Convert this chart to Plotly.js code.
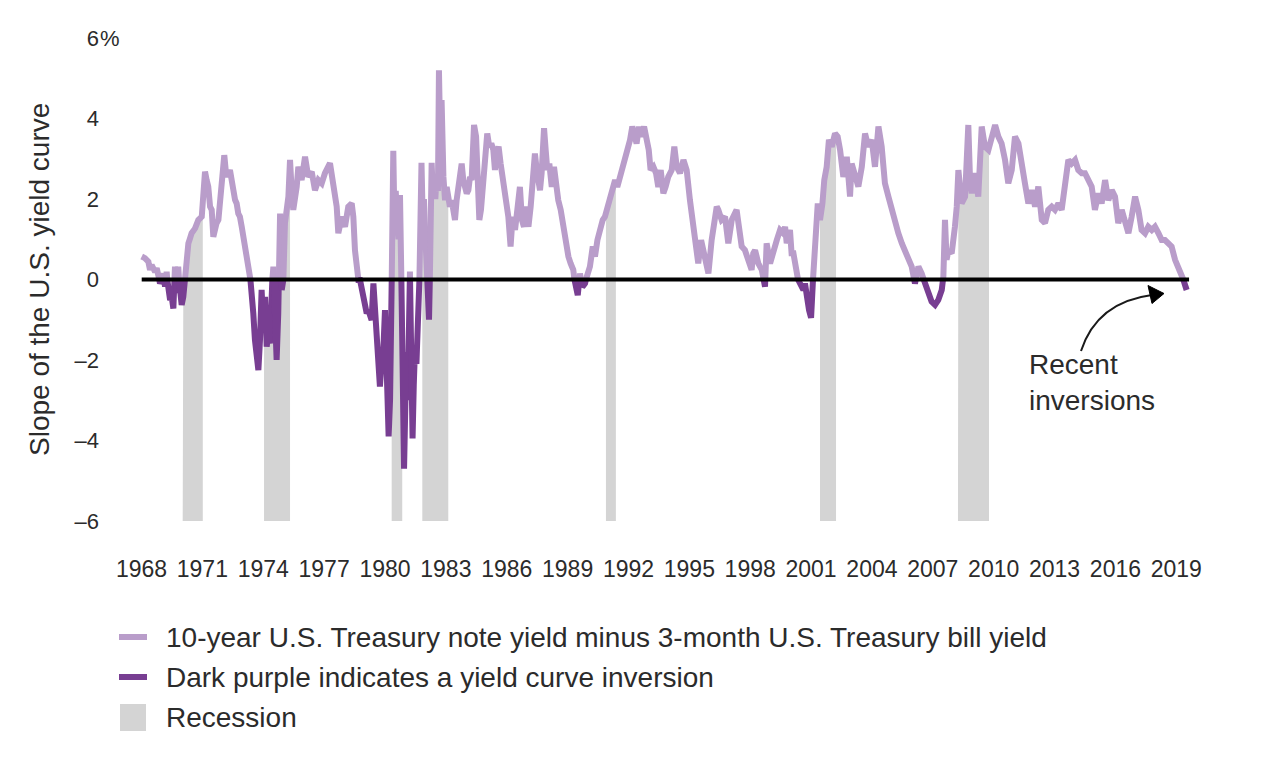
<!DOCTYPE html>
<html>
<head>
<meta charset="utf-8">
<script src="https://cdn.plot.ly/plotly-3.0.1.min.js"></script>
<style>
  html, body { margin: 0; padding: 0; background: #ffffff; }
  #chart { width: 1281px; height: 757px; }
</style>
</head>
<body>
<div id="chart"></div>
<script>
// ---------------- DATA ----------------
// decimal year, spread (10-yr note yield minus 3-month bill yield, %)
const years1968_1979 = [1968.01,1968.17,1968.34,1968.42,1968.50,1968.58,1968.67,1968.75,1968.83,1968.91,1969.00,1969.08,1969.16,1969.24,1969.32,1969.41,1969.49,1969.57,1969.65,1969.73,1969.81,1969.90,1969.98,1970.06,1970.14,1970.23,1970.31,1970.39,1970.47,1970.64,1970.80,1970.97,1971.05,1971.13,1971.21,1971.29,1971.38,1971.46,1971.54,1971.62,1971.70,1971.79,1971.87,1971.95,1972.08,1972.15,1972.25,1972.36,1972.44,1972.53,1972.61,1972.69,1972.77,1972.85,1972.94,1973.02,1973.10,1973.18,1973.27,1973.35,1973.43,1973.51,1973.59,1973.68,1973.76,1973.84,1973.92,1974.00,1974.09,1974.17,1974.25,1974.33,1974.42,1974.50,1974.58,1974.66,1974.74,1974.83,1974.91,1974.99,1975.07,1975.24,1975.32,1975.40,1975.48,1975.65,1975.73,1975.89,1976.06,1976.22,1976.39,1976.55,1976.72,1976.88,1977.04,1977.29,1977.46,1977.62,1977.70,1977.87,1978.03,1978.19,1978.36,1978.44,1978.52,1978.69,1978.77,1978.93,1979.10,1979.18,1979.26,1979.34,1979.43,1979.51,1979.59,1979.67,1979.75,1979.84,1979.92];
const spread1968_1979 = [0.57,0.53,0.44,0.24,0.36,0.28,0.19,0.28,0.15,-0.10,-0.01,0.15,-0.18,0.19,-0.34,-0.51,-0.43,-0.72,0.32,-0.34,0.32,-0.43,-0.63,-0.43,-0.01,0.73,0.90,1.02,1.15,1.27,1.48,1.56,2.06,2.68,2.47,2.31,1.81,1.73,1.06,1.31,1.40,1.48,1.89,2.47,3.09,2.72,2.55,2.72,2.31,2.22,1.98,1.89,1.64,1.56,1.31,1.06,0.82,0.57,0.24,0.07,-0.26,-0.84,-1.50,-2.17,-2.25,-1.50,-0.26,-1.17,-0.43,-1.67,-1.34,-1.59,-0.18,0.32,-1.01,-2.00,-0.84,1.64,-0.26,-0.01,1.40,2.06,2.97,2.22,1.73,2.31,2.80,2.47,3.05,2.55,2.68,2.22,2.47,2.39,2.64,2.89,2.31,1.81,1.15,1.56,1.31,1.81,1.89,1.56,0.73,-0.01,-0.01,-0.51,-0.84,-0.76,-0.96,-1.01,-0.10,-0.84,-1.09,-1.92,-2.66,-2.00,-1.75];

const years1980_1989 = [1980.00,1980.08,1980.18,1980.25,1980.33,1980.41,1980.47,1980.53,1980.60,1980.67,1980.74,1980.80,1980.86,1980.94,1981.00,1981.06,1981.12,1981.18,1981.23,1981.29,1981.36,1981.42,1981.48,1981.55,1981.62,1981.68,1981.74,1981.80,1981.86,1981.92,1981.98,1982.04,1982.10,1982.17,1982.23,1982.30,1982.36,1982.42,1982.48,1982.55,1982.61,1982.66,1982.72,1982.79,1982.88,1982.96,1983.04,1983.12,1983.20,1983.29,1983.37,1983.45,1983.53,1983.62,1983.70,1983.78,1983.86,1983.94,1984.03,1984.11,1984.19,1984.27,1984.39,1984.49,1984.57,1984.65,1984.73,1984.81,1984.93,1985.04,1985.14,1985.24,1985.34,1985.42,1985.50,1985.60,1985.70,1985.80,1985.92,1986.00,1986.08,1986.19,1986.29,1986.41,1986.49,1986.59,1986.65,1986.75,1986.85,1986.95,1987.07,1987.18,1987.28,1987.39,1987.48,1987.56,1987.64,1987.72,1987.84,1987.92,1988.00,1988.10,1988.22,1988.33,1988.43,1988.54,1988.66,1988.79,1988.92,1989.04,1989.15,1989.28,1989.40,1989.50,1989.61,1989.73,1989.86,1989.97];
const spread1980_1989 = [-0.76,-2.58,-3.90,-2.99,-0.10,3.20,1.30,2.20,1.50,1.00,2.10,0.30,-2.00,-4.70,-3.20,-1.80,-3.00,-1.50,0.20,-2.30,-3.95,-2.60,-1.70,-2.10,-1.20,-0.40,1.00,2.90,1.50,2.00,1.20,0.60,-0.20,-1.00,0.50,2.90,2.10,2.40,2.00,2.60,2.20,5.20,3.50,4.46,2.55,1.97,2.30,1.89,1.81,1.97,1.64,1.48,1.97,2.30,2.64,2.88,2.47,2.30,2.14,2.22,2.55,2.47,3.84,3.55,1.97,1.48,1.73,2.30,2.97,3.63,3.30,3.38,3.22,2.72,3.13,3.30,2.88,2.55,1.97,1.73,1.56,0.82,1.56,1.23,1.56,1.97,2.30,1.48,1.31,1.81,1.31,1.81,2.30,3.13,2.72,2.39,2.22,2.64,3.76,3.22,2.72,2.88,2.30,2.80,2.22,1.97,1.73,1.31,0.90,0.57,0.40,0.24,-0.26,-0.39,0.15,-0.18,-0.10,0.15];

const years1990_1999 = [1990.10,1990.24,1990.35,1990.47,1990.60,1990.73,1990.84,1990.96,1991.09,1991.22,1991.34,1991.45,1991.58,1991.71,1991.83,1991.94,1992.08,1992.19,1992.29,1992.40,1992.52,1992.63,1992.77,1992.90,1993.00,1993.09,1993.23,1993.36,1993.47,1993.59,1993.72,1993.83,1993.96,1994.13,1994.26,1994.38,1994.54,1994.71,1994.87,1995.03,1995.20,1995.36,1995.44,1995.58,1995.69,1995.85,1995.94,1996.10,1996.27,1996.35,1996.43,1996.59,1996.76,1996.92,1997.09,1997.25,1997.33,1997.42,1997.58,1997.74,1997.91,1998.07,1998.15,1998.24,1998.40,1998.57,1998.73,1998.81,1998.98,1999.14,1999.31,1999.47,1999.63,1999.72,1999.80,1999.96];
const spread1990_1999 = [0.32,0.82,0.57,0.98,1.31,1.48,1.56,1.81,1.97,2.22,2.47,2.30,2.55,2.80,2.97,3.13,3.47,3.80,3.55,3.38,3.80,3.55,3.80,3.47,3.22,2.72,2.80,2.64,2.30,2.72,2.14,2.30,2.55,2.72,3.30,2.80,2.64,2.97,2.72,1.97,1.40,0.90,0.40,0.98,0.73,0.32,0.15,0.98,1.64,1.81,1.73,1.48,1.56,0.90,1.48,1.64,1.73,1.40,0.82,0.73,0.49,0.24,0.65,0.73,0.40,0.24,-0.18,0.90,0.40,0.73,0.98,1.23,1.15,1.31,0.90,1.23];

const years2000_2009 = [2000.04,2000.13,2000.29,2000.45,2000.62,2000.70,2000.78,2000.90,2001.00,2001.11,2001.23,2001.33,2001.44,2001.56,2001.65,2001.77,2001.88,2002.02,2002.18,2002.31,2002.43,2002.59,2002.76,2002.92,2003.00,2003.17,2003.33,2003.50,2003.66,2003.82,2003.99,2004.15,2004.32,2004.48,2004.64,2004.81,2004.97,2005.14,2005.30,2005.47,2005.63,2005.79,2005.96,2006.12,2006.29,2006.45,2006.62,2006.78,2006.94,2007.11,2007.27,2007.44,2007.52,2007.60,2007.68,2007.77,2007.93,2008.09,2008.18,2008.26,2008.34,2008.42,2008.59,2008.75,2008.83,2008.92,2009.08,2009.24,2009.41,2009.57,2009.74,2009.90];
const spread2000_2009 = [0.65,0.65,0.07,-0.10,-0.26,-0.10,-0.43,-0.76,-0.95,0.15,0.90,1.89,1.48,1.89,2.47,2.80,3.47,3.30,3.63,3.55,3.22,2.55,3.05,2.06,2.88,2.55,2.31,2.80,3.63,3.30,3.47,2.80,3.80,3.30,2.39,2.06,1.73,1.40,1.15,0.90,0.73,0.57,0.32,-0.10,0.32,0.15,-0.10,-0.34,-0.55,-0.63,-0.51,-0.26,0.07,1.48,0.49,0.73,0.65,1.31,1.81,2.72,1.97,1.89,2.06,3.84,2.55,2.14,2.64,2.06,3.80,3.30,3.22,3.47];

const years2010_2019 = [2010.07,2010.23,2010.39,2010.56,2010.72,2010.89,2011.05,2011.22,2011.38,2011.54,2011.71,2011.87,2012.04,2012.20,2012.37,2012.53,2012.69,2012.86,2013.02,2013.19,2013.35,2013.52,2013.68,2013.84,2014.01,2014.17,2014.34,2014.50,2014.67,2014.83,2014.99,2015.16,2015.32,2015.49,2015.65,2015.82,2015.98,2016.14,2016.31,2016.47,2016.64,2016.80,2016.97,2017.13,2017.29,2017.46,2017.62,2017.79,2017.95,2018.12,2018.28,2018.44,2018.61,2018.77,2018.94,2019.10,2019.27,2019.35,2019.43,2019.51];
const spread2010_2019 = [3.84,3.55,3.38,2.97,2.39,2.72,3.55,3.38,2.97,2.39,1.89,2.22,1.81,2.31,1.48,1.40,1.73,1.81,1.73,1.89,1.73,2.55,2.97,2.88,2.97,2.72,2.64,2.64,2.47,2.31,1.73,2.14,1.89,2.47,1.97,2.22,2.06,1.40,1.73,1.48,1.15,1.56,2.06,1.73,1.23,1.15,1.31,1.23,1.31,1.15,0.98,0.98,0.90,0.82,0.49,0.32,0.15,-0.01,-0.18,-0.26];

// recessions (start / end, decimal years)
const recessionStart = [1970.03, 1974.04, 1980.33, 1981.84, 1990.89, 2001.44, 2008.24];
const recessionEnd   = [1971.02, 1975.32, 1980.85, 1983.12, 1991.38, 2002.23, 2009.77];

// tick labels
const xTickYears = [1968,1971,1974,1977,1980,1983,1986,1989,1992,1995,1998,2001,2004,2007,2010,2013,2016,2019];
const yTickValues = [-6,-4,-2,0,2,4,6];
const yTickLabels = ['\u20136','\u20134','\u20132','0','2','4','6'];

const legendLabels = [
  '10-year U.S. Treasury note yield minus 3-month U.S. Treasury bill yield',
  'Dark purple indicates a yield curve inversion',
  'Recession'
];
const yAxisTitle = 'Slope of the U.S. yield curve';
const calloutText = 'Recent<br>inversions';

// ---------------- BUILD ----------------
const years = [].concat(years1968_1979, years1980_1989, years1990_1999, years2000_2009, years2010_2019);
const spread = [].concat(spread1968_1979, spread1980_1989, spread1990_1999, spread2000_2009, spread2010_2019);

const LIGHT = '#b99dca';
const DARK = '#783e92';
const GREY = '#d4d4d4';
const TXT = '#2b2b2b';

// split into positive (light) and negative (dark) runs at zero crossings
const posX = [], posY = [], negX = [], negY = [];
for (let i = 0; i < years.length; i++) {
  const x = years[i], y = spread[i];
  if (i > 0) {
    const x0 = years[i - 1], y0 = spread[i - 1];
    if ((y0 >= 0) !== (y >= 0)) {
      const xc = x0 + (x - x0) * (0 - y0) / (y - y0);
      if (y0 >= 0) {
        posX.push(xc, null); posY.push(0, null);
        negX.push(xc); negY.push(0);
      } else {
        negX.push(xc, null); negY.push(0, null);
        posX.push(xc); posY.push(0);
      }
    }
  }
  if (y >= 0) { posX.push(x); posY.push(y); } else { negX.push(x); negY.push(y); }
}

function valueAt(t) {
  for (let i = 1; i < years.length; i++) {
    if (years[i] >= t) {
      const f = (t - years[i - 1]) / (years[i] - years[i - 1]);
      return spread[i - 1] + f * (spread[i] - spread[i - 1]);
    }
  }
  return spread[spread.length - 1];
}

const traces = [];
// recession areas: grey fill from the bottom of the axis up to the curve
for (let r = 0; r < recessionStart.length; r++) {
  const s = recessionStart[r], e = recessionEnd[r];
  const xs = [s, s], ys = [-6, valueAt(s)];
  for (let i = 0; i < years.length; i++) {
    if (years[i] > s && years[i] < e) { xs.push(years[i]); ys.push(spread[i]); }
  }
  xs.push(e, e); ys.push(valueAt(e), -6);
  traces.push({
    x: xs, y: ys, type: 'scatter', mode: 'lines', fill: 'toself',
    fillcolor: GREY, line: { width: 0, color: GREY }, hoverinfo: 'skip', showlegend: false
  });
}
traces.push({
  x: posX, y: posY, type: 'scatter', mode: 'lines', connectgaps: false,
  line: { color: LIGHT, width: 6 }, showlegend: false, hoverinfo: 'skip'
});
traces.push({
  x: negX, y: negY, type: 'scatter', mode: 'lines', connectgaps: false,
  line: { color: DARK, width: 6 }, showlegend: false, hoverinfo: 'skip'
});

// layout geometry
const W = 1281, H = 757;
const M = { l: 130, r: 81, t: 30, b: 228 };
const PW = W - M.l - M.r, PH = H - M.t - M.b;
const PX = p => (p - M.l) / PW;
const PY = p => 1 - (p - M.t) / PH;

const FONT = 'Liberation Sans, Arial, Helvetica, sans-serif';

const shapes = [];
// zero line
shapes.push({ type: 'line', xref: 'x', yref: 'y', x0: years[0], x1: years[years.length - 1] + 0.12, y0: 0, y1: 0,
  line: { color: '#000000', width: 4 }, layer: 'above' });
// callout arrow (curve + head)
shapes.push({ type: 'path', xref: 'paper', yref: 'paper',
  path: 'M ' + PX(1081) + ' ' + PY(351) + ' Q ' + PX(1097) + ' ' + PY(302) + ' ' + PX(1152) + ' ' + PY(295),
  line: { color: '#1a1a1a', width: 2 }, layer: 'above' });
shapes.push({ type: 'path', xref: 'paper', yref: 'paper',
  path: 'M ' + PX(1148) + ' ' + PY(285.5) + ' L ' + PX(1164) + ' ' + PY(293.5) + ' L ' + PX(1152) + ' ' + PY(303.5) + ' Z',
  fillcolor: '#000000', line: { color: '#000000', width: 1 }, layer: 'above' });
// legend symbols
shapes.push({ type: 'line', xref: 'paper', yref: 'paper', x0: PX(119), x1: PX(147), y0: PY(637), y1: PY(637),
  line: { color: LIGHT, width: 6 } });
shapes.push({ type: 'line', xref: 'paper', yref: 'paper', x0: PX(119), x1: PX(147), y0: PY(677), y1: PY(677),
  line: { color: DARK, width: 6 } });
shapes.push({ type: 'rect', xref: 'paper', yref: 'paper', x0: PX(120), x1: PX(146), y0: PY(731), y1: PY(704),
  fillcolor: GREY, line: { width: 0 } });

const annotations = [];
const legendY = [637, 677, 717];
for (let k = 0; k < legendLabels.length; k++) {
  annotations.push({ xref: 'paper', yref: 'paper', x: PX(164), y: PY(legendY[k]), xanchor: 'left', yanchor: 'middle',
    text: legendLabels[k], showarrow: false, font: { family: FONT, size: 28, color: TXT } });
}
annotations.push({ xref: 'paper', yref: 'paper', x: PX(1027), y: PY(382), xanchor: 'left', yanchor: 'middle', align: 'left',
  text: calloutText, showarrow: false, font: { family: FONT, size: 28, color: TXT } });
annotations.push({ xref: 'paper', yref: 'paper', x: PX(39), y: PY(280), xanchor: 'center', yanchor: 'middle',
  text: yAxisTitle, textangle: -90, showarrow: false, font: { family: FONT, size: 28, color: TXT } });
annotations.push({ xref: 'paper', yref: 'y', x: PX(98), y: 6, xanchor: 'left', yanchor: 'middle',
  text: '%', showarrow: false, font: { family: FONT, size: 22, color: TXT } });

const layout = {
  width: W, height: H,
  margin: M,
  paper_bgcolor: '#ffffff', plot_bgcolor: '#ffffff',
  showlegend: false,
  xaxis: {
    range: [1968 + (M.l - 141.5) / 20.29, 1968 + (W - M.r - 141.5) / 20.29],
    tickmode: 'array', tickvals: xTickYears, ticktext: xTickYears.map(String),
    showgrid: false, zeroline: false, showline: false, ticks: '',
    ticklabelstandoff: 24,
    tickfont: { family: FONT, size: 23, color: TXT }
  },
  yaxis: {
    range: [-6.2, 6.2],
    tickmode: 'array', tickvals: yTickValues, ticktext: yTickLabels,
    showgrid: false, zeroline: false, showline: false, ticks: '',
    ticklabelstandoff: 30,
    tickfont: { family: FONT, size: 22, color: TXT }
  },
  shapes: shapes,
  annotations: annotations
};

Plotly.newPlot('chart', traces, layout, { displayModeBar: false, staticPlot: true });
</script>
</body>
</html>
